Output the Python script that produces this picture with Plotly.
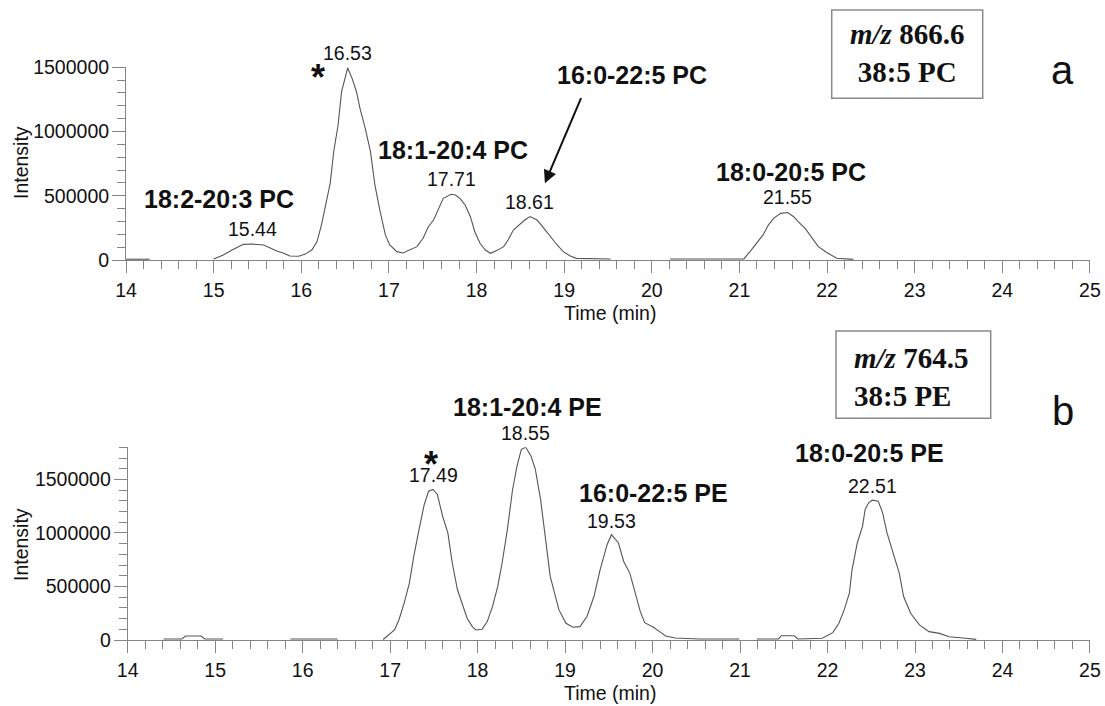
import numpy as np
import plotly.graph_objects as go

W, H = 1105, 706

# ---- Panel a: extracted ion chromatogram, m/z 866.6 (None separates scan windows)
pc_time = [14.00, 14.27, None,
           15.00, 15.11, 15.21, 15.26, 15.34, 15.44, 15.57, 15.64, 15.72, 15.80,
           15.87, 15.97, 16.04, 16.12, 16.18, 16.23, 16.29, 16.33, 16.37, 16.42,
           16.46, 16.53, 16.58, 16.63, 16.67, 16.73, 16.79, 16.84, 16.90, 16.96,
           17.01, 17.09, 17.16, 17.24, 17.32, 17.39, 17.45, 17.51, 17.57, 17.62,
           17.71, 17.76, 17.81, 17.87, 17.93, 17.98, 18.04, 18.10, 18.16, 18.23,
           18.31, 18.36, 18.42, 18.50, 18.55, 18.61, 18.69, 18.74, 18.80, 18.86,
           18.92, 18.99, 19.07, 19.14, 19.53, None,
           20.21, 21.05, 21.12, 21.20, 21.27, 21.33, 21.39, 21.47, 21.55, 21.62,
           21.67, 21.75, 21.83, 21.90, 22.00, 22.11, 22.30]
pc_intensity = [6000, 6000, None,
                8000, 39000, 78000, 96000, 122000, 124000, 117000, 96000, 70000, 52000,
                31000, 29000, 44000, 78000, 143000, 272000, 454000, 597000, 843000, 1051000,
                1310000, 1495000, 1414000, 1310000, 1181000, 1025000, 843000, 584000, 376000, 195000,
                117000, 65000, 55000, 78000, 104000, 169000, 259000, 311000, 402000, 480000,
                512000, 506000, 480000, 428000, 337000, 220000, 130000, 78000, 52000, 73000,
                104000, 156000, 233000, 285000, 311000, 338000, 311000, 272000, 220000, 169000,
                117000, 65000, 31000, 13000, 8000, None,
                8000, 8000, 65000, 130000, 195000, 272000, 324000, 363000, 370000, 337000,
                298000, 246000, 169000, 104000, 57000, 13000, 5000]

# ---- Panel b: extracted ion chromatogram, m/z 764.5
pe_time = [14.41, 14.62, 14.66, 14.84, 14.88, 15.09, None,
           15.86, 16.40, None,
           16.92, 16.99, 17.05, 17.10, 17.16, 17.22, 17.27, 17.33, 17.39, 17.44,
           17.49, 17.54, 17.60, 17.66, 17.71, 17.77, 17.83, 17.88, 17.94, 17.98,
           18.05, 18.11, 18.17, 18.23, 18.28, 18.34, 18.40, 18.45, 18.50, 18.55,
           18.61, 18.66, 18.72, 18.77, 18.83, 18.87, 18.93, 19.01, 19.09, 19.17,
           19.25, 19.33, 19.40, 19.48, 19.53, 19.61, 19.67, 19.74, 19.80, 19.86,
           19.91, 20.01, 20.08, 20.15, 20.26, 20.53, 20.99, None,
           21.19, 21.44, 21.47, 21.62, 21.66, 21.94, 22.06, 22.13, 22.19, 22.25,
           22.28, 22.34, 22.40, 22.43, 22.47, 22.51, 22.58, 22.63, 22.68, 22.76,
           22.82, 22.87, 22.95, 23.05, 23.16, 23.28, 23.39, 23.58, 23.70]
pe_intensity = [10000, 10000, 37000, 37000, 10000, 10000, None,
                10000, 10000, None,
                5000, 56000, 94000, 187000, 344000, 531000, 781000, 1031000, 1266000, 1390000,
                1406000, 1359000, 1156000, 1000000, 719000, 469000, 312000, 203000, 125000, 94000,
                100000, 172000, 312000, 500000, 719000, 1031000, 1406000, 1625000, 1781000, 1800000,
                1719000, 1594000, 1312000, 1000000, 594000, 469000, 281000, 156000, 119000, 125000,
                219000, 406000, 656000, 890000, 984000, 906000, 734000, 625000, 437000, 265000,
                162000, 119000, 78000, 37000, 19000, 9000, 9000, None,
                10000, 10000, 40000, 40000, 10000, 16000, 69000, 156000, 281000, 437000,
                656000, 906000, 1062000, 1219000, 1281000, 1306000, 1297000, 1187000, 1000000, 781000,
                625000, 406000, 250000, 141000, 78000, 62000, 31000, 16000, 6000]

# Retention times printed above the peaks
pc_peak_times = [15.44, 16.53, 17.71, 18.61, 21.55]
pe_peak_times = [17.49, 18.55, 19.53, 22.51]

# Species assignments
pc_species = ["18:2-20:3 PC", "18:1-20:4 PC", "16:0-22:5 PC", "18:0-20:5 PC"]
pe_species = ["18:1-20:4 PE", "16:0-22:5 PE", "18:0-20:5 PE"]

x_ticks = list(range(14, 26))
pc_y_ticks = [0, 500000, 1000000, 1500000]
pe_y_ticks = [0, 500000, 1000000, 1500000]

SANS = "Liberation Sans"
SERIF = "Liberation Serif"
AXIS_GRAY = "#858585"
TRACE = "#555555"
TEXT = "#111111"
NUM_SIZE = 19.5
BOLD_SIZE = 25

PC_TOP = 1500000
PE_TOP = 1800000


def peak_height(times, values, t):
    pts = [(a, b) for a, b in zip(times, values) if a is not None]
    xs, ys = zip(*pts)
    return float(np.interp(t, xs, ys))


fig = go.Figure()
fig.add_trace(go.Scatter(x=pc_time, y=pc_intensity, mode="lines",
                         line=dict(color=TRACE, width=1.1), connectgaps=False,
                         xaxis="x", yaxis="y", hoverinfo="skip"))
fig.add_trace(go.Scatter(x=pe_time, y=pe_intensity, mode="lines",
                         line=dict(color=TRACE, width=1.1), connectgaps=False,
                         xaxis="x2", yaxis="y2", hoverinfo="skip"))


def x_axis(left_px, anchor):
    return dict(domain=[left_px / W, 1090 / W], range=[14, 25.0005], anchor=anchor,
                automargin=False,
                tickvals=x_ticks, ticktext=[str(v) for v in x_ticks],
                ticks="outside", ticklen=12, tickwidth=1, tickcolor=AXIS_GRAY,
                showline=True, linecolor=AXIS_GRAY, linewidth=1,
                showgrid=False, zeroline=False,
                minor=dict(dtick=0.2, tick0=14, ticks="outside", ticklen=8,
                           tickwidth=1, tickcolor=AXIS_GRAY, showgrid=False),
                tickfont=dict(family=SANS, size=NUM_SIZE, color=TEXT),
                ticklabelstandoff=1)


def y_axis(bottom_px, top_px, top_val, tickvals, anchor):
    return dict(domain=[1 - bottom_px / H, 1 - top_px / H], range=[0, top_val], anchor=anchor,
                automargin=False,
                tickvals=tickvals, ticktext=[str(v) for v in tickvals],
                ticks="outside", ticklen=13, tickwidth=1, tickcolor=AXIS_GRAY,
                showline=True, linecolor=AXIS_GRAY, linewidth=1,
                showgrid=False, zeroline=False,
                minor=dict(dtick=100000, tick0=0, ticks="outside", ticklen=8,
                           tickwidth=1, tickcolor=AXIS_GRAY, showgrid=False),
                tickfont=dict(family=SANS, size=NUM_SIZE, color=TEXT),
                ticklabelstandoff=-1)


annotations = []


def note(**kw):
    kw.setdefault("showarrow", False)
    kw.setdefault("xanchor", "center")
    kw.setdefault("yanchor", "middle")
    annotations.append(kw)


# retention-time labels centred above each apex
for t in pc_peak_times:
    note(x=t, y=peak_height(pc_time, pc_intensity, t), xref="x", yref="y",
         text=f"{t:.2f}", yshift=15, font=dict(family=SANS, size=NUM_SIZE, color=TEXT))
for t in pe_peak_times:
    note(x=t, y=peak_height(pe_time, pe_intensity, t), xref="x2", yref="y2",
         text=f"{t:.2f}", yshift=14, font=dict(family=SANS, size=NUM_SIZE, color=TEXT))

# species names (bold); anchors above the axis top are clamped to it and lifted in px
pc_label_pos = [(15.06, 475000, 0), (17.73, 856000, 0), (19.77, 1440000, 0), (21.59, 687000, 0)]
pe_label_pos = [(18.57, PE_TOP, 40), (20.01, 1369000, 0), (22.48, 1744000, 0)]
for name, (x, y, dy) in zip(pc_species, pc_label_pos):
    note(x=x, y=y, yshift=dy, xref="x", yref="y", text=f"<b>{name}</b>",
         font=dict(family=SANS, size=BOLD_SIZE, color=TEXT))
for name, (x, y, dy) in zip(pe_species, pe_label_pos):
    note(x=x, y=y, yshift=dy, xref="x2", yref="y2", text=f"<b>{name}</b>",
         font=dict(family=SANS, size=BOLD_SIZE, color=TEXT))

# arrow pointing at the 16:0-22:5 PC shoulder
annotations.append(dict(x=18.78, y=597000, ax=19.20, ay=1271000, xref="x", yref="y",
                        axref="x", ayref="y", text="", showarrow=True,
                        arrowhead=2, arrowsize=1.3, arrowwidth=2, arrowcolor="#111111"))

# asterisks marking the dominant species
note(x=16.19, y=1420000, xref="x", yref="y", text="<b>*</b>",
     font=dict(family=SANS, size=36, color=TEXT))
note(x=17.47, y=1640000, xref="x2", yref="y2", text="<b>*</b>",
     font=dict(family=SANS, size=36, color=TEXT))

# axis titles
for y_px in (313, 693):
    note(x=610 / W, y=1 - y_px / H, xref="paper", yref="paper", text="Time (min)",
         font=dict(family=SANS, size=NUM_SIZE, color=TEXT))
for y_px in (163, 545):
    note(x=21 / W, y=1 - y_px / H, xref="paper", yref="paper", text="Intensity",
         textangle=-90, font=dict(family=SANS, size=NUM_SIZE, color=TEXT))

# precursor boxes
note(x=907 / W, y=1 - 53 / H, xref="paper", yref="paper",
     text="<b><i>m/z</i> 866.6</b><br><b>38:5 PC</b>", align="center",
     font=dict(family=SERIF, size=29, color=TEXT))
note(x=852 / W, y=1 - 377 / H, xref="paper", yref="paper", xanchor="left",
     text="<b><i>m/z</i> 764.5</b><br><b>38:5 PE</b>", align="left",
     font=dict(family=SERIF, size=29, color=TEXT))

# panel letters
note(x=1062.5 / W, y=1 - 70 / H, xref="paper", yref="paper", text="a",
     font=dict(family=SANS, size=40, color=TEXT))
note(x=1062.5 / W, y=1 - 410.5 / H, xref="paper", yref="paper", text="b",
     font=dict(family=SANS, size=40, color=TEXT))

shapes = [
    dict(type="rect", xref="paper", yref="paper", x0=831.7 / W, x1=982.7 / W,
         y0=1 - 98.3 / H, y1=1 - 10 / H, line=dict(color="#8a8a8a", width=1.5)),
    dict(type="rect", xref="paper", yref="paper", x0=836 / W, x1=990.7 / W,
         y0=1 - 418.3 / H, y1=1 - 331 / H, line=dict(color="#8a8a8a", width=1.5)),
]

fig.update_layout(
    width=W, height=H, margin=dict(l=0, r=0, t=0, b=0, autoexpand=False),
    paper_bgcolor="white", plot_bgcolor="white", showlegend=False,
    xaxis=x_axis(126, "y"),
    yaxis=y_axis(260, 67.3, PC_TOP, pc_y_ticks, "x"),
    xaxis2=x_axis(127.7, "y2"),
    yaxis2=y_axis(640, 447.3, PE_TOP, pe_y_ticks, "x2"),
    annotations=annotations, shapes=shapes,
)

fig.write_html("out.html")
